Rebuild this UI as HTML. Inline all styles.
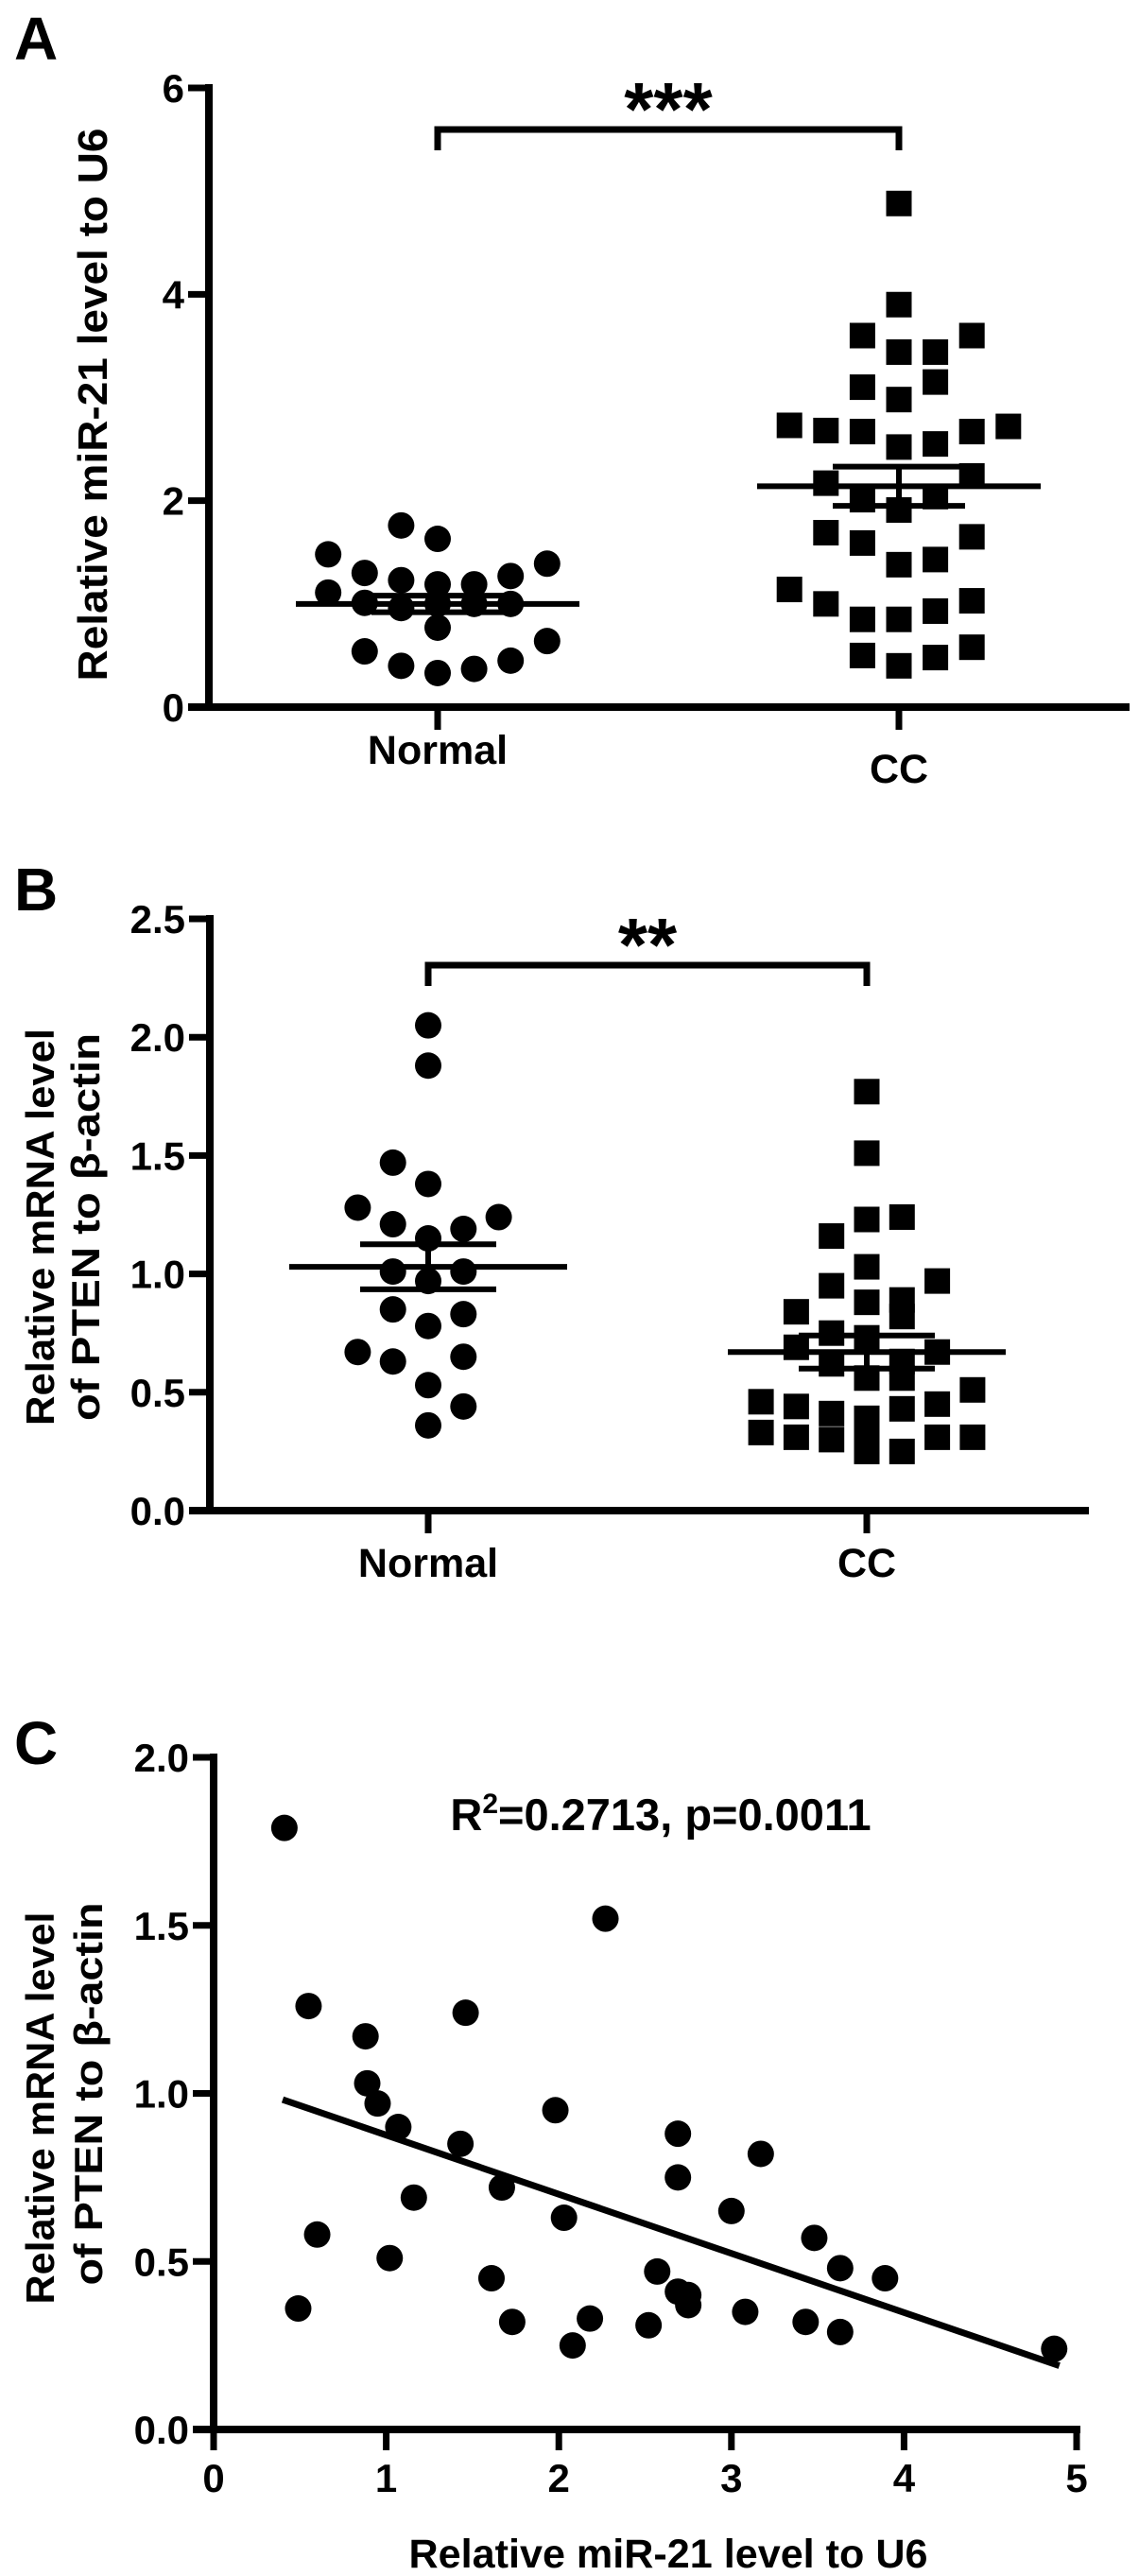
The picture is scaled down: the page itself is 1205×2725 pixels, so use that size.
<!DOCTYPE html>
<html><head><meta charset="utf-8"><style>
html,body{margin:0;padding:0;background:#fff}
svg{display:block}
text{font-family:"Liberation Sans",Arial,sans-serif;font-weight:bold;fill:#000}
</style></head><body>
<svg id="fig" width="1205" height="2725" viewBox="0 0 1205 2725" xmlns="http://www.w3.org/2000/svg"></svg>
<script>
// ---- Panel A data ----
const aGroups = ["Normal","CC"];
const aTicks = [0,2,4,6];
const aNormal = [1.76,1.63,1.48,1.39,1.30,1.23,1.19,1.19,1.27,1.11,1.01,0.96,1.0,1.0,1.0,0.77,0.64,0.54,0.45,0.40,0.37,0.33];
const aNormalCol = [-1,0,-3,3,-2,-1,0,1,2,-3,-2,-1,0,1,2,0,3,-2,2,-1,1,0];
const aCC = [4.88,3.90,3.60,3.60,3.44,3.44,3.15,3.10,2.98,2.73,2.68,2.67,2.72,2.67,2.52,2.55,2.17,2.24,2.01,1.91,2.04,1.69,1.59,1.65,1.38,1.43,1.14,1.0,0.85,0.85,0.93,1.03,0.58,0.50,0.48,0.40];
const aCCCol = [0,0,-1,2,0,1,1,-1,0,-3,-2,-1,3,2,0,1,-2,2,-1,0,1,-2,-1,2,0,1,-3,-2,-1,0,1,2,2,-1,1,0];
const aMean = [1.0,2.14];
const aSem = [0.08,0.19];
// ---- Panel B data ----
const bTicks = [0,0.5,1.0,1.5,2.0,2.5];
const bNormal = [2.05,1.88,1.47,1.38,1.28,1.24,1.21,1.19,1.15,1.01,1.01,0.97,0.85,0.83,0.78,0.67,0.63,0.65,0.53,0.44,0.36];
const bNormalCol = [0,0,-1,0,-2,2,-1,1,0,-1,1,0,-1,1,0,-2,-1,1,0,1,0];
const bCC = [1.77,1.51,1.24,1.23,1.16,1.03,0.97,0.95,0.89,0.88,0.84,0.82,0.75,0.73,0.67,0.69,0.62,0.63,0.56,0.56,0.51,0.46,0.44,0.41,0.39,0.43,0.45,0.31,0.31,0.33,0.31,0.30,0.35,0.25,0.25];
const bCCCol = [0,0,1,0,-1,0,2,-1,1,0,-2,1,-1,0,2,-2,-1,1,0,1,3,-3,-2,-1,0,1,2,2,3,-3,-2,-1,0,1,0];
const bMean = [1.03,0.67];
const bSem = [0.095,0.07];
// ---- Panel C data ----
const cXTicks = [0,1,2,3,4,5];
const cYTicks = [0,0.5,1.0,1.5,2.0];
const cX = [0.41,2.27,0.55,1.46,0.88,0.89,0.95,1.98,1.07,1.43,2.69,3.17,2.69,1.67,1.16,3.0,2.03,0.60,3.48,1.02,2.57,3.63,3.89,1.61,2.69,2.75,2.75,0.49,3.08,1.73,2.18,2.52,3.43,3.63,2.08,4.87];
const cY = [1.79,1.52,1.26,1.24,1.17,1.03,0.97,0.95,0.90,0.85,0.88,0.82,0.75,0.72,0.69,0.65,0.63,0.58,0.57,0.51,0.47,0.48,0.45,0.45,0.41,0.40,0.37,0.36,0.35,0.32,0.33,0.31,0.32,0.29,0.25,0.24];
const cFitSlope = -0.176;
const cFitIntercept = 1.052;
const cFitRange = [0.4,4.9];

const svg = document.getElementById('fig');
const NS = "http://www.w3.org/2000/svg";
function mk(tag, attrs, parent){
  const e = document.createElementNS(NS, tag);
  for (const k in attrs) e.setAttribute(k, attrs[k]);
  (parent||svg).appendChild(e);
  return e;
}
function txt(s, attrs, parent){ const t = mk('text', attrs, parent); t.textContent = s; return t; }

function scatterPanel(cfg){
  const g = mk('g', {});
  
  
  const y = v => cfg.y0 - (v - cfg.ymin) / (cfg.ymax - cfg.ymin) * (cfg.y0 - cfg.yTop);
  const ya = mk('line', {x1:cfg.ax, y1:cfg.yTop-4, x2:cfg.ax, y2:cfg.y0+4, stroke:'#000','stroke-width':8}, g);
   
  const xa = mk('line', {x1:cfg.ax-22, y1:cfg.y0, x2:cfg.xEnd, y2:cfg.y0, stroke:'#000','stroke-width':8}, g);
   
  cfg.ticks.forEach(t => {
    const tl = mk('line', {x1:cfg.ax-22, y1:y(t), x2:cfg.ax, y2:y(t), stroke:'#000','stroke-width':7}, g);
     
    const lb = txt(cfg.fmt(t), {x:cfg.ax-26, y:y(t)+15, 'font-size':42, 'text-anchor':'end'}, g);
     
  });
  cfg.groups.forEach((gr, i) => {
    const cx = cfg.gx[i];
    const tk = mk('line', {x1:cx, y1:cfg.y0, x2:cx, y2:cfg.y0+24, stroke:'#000','stroke-width':7}, g);
     
    const lb = txt(gr, {x:cx, y:cfg.y0+cfg.labDy[i], 'font-size':43, 'text-anchor':'middle'}, g);
     
  });
  cfg.series.forEach((s, i) => {
    const cx = cfg.gx[i];
    s.vals.forEach((v, j) => {
      const px = cx + s.cols[j]*cfg.step, py = y(v);
      let m;
      if (s.shape === 'circle') m = mk('circle', {cx:px, cy:py, r:14, fill:'#000'}, g);
      else m = mk('rect', {x:px-13.5, y:py-13.5, width:27, height:27, fill:'#000'}, g);
      
      
    });
    const mm = mk('line', {x1:cx-cfg.meanW, y1:y(cfg.mean[i]), x2:cx+cfg.meanW, y2:y(cfg.mean[i]), stroke:'#000','stroke-width':6}, g);
     
    [cfg.mean[i]+cfg.sem[i], cfg.mean[i]-cfg.sem[i]].forEach(v => {
      const sl = mk('line', {x1:cx-cfg.semW, y1:y(v), x2:cx+cfg.semW, y2:y(v), stroke:'#000','stroke-width':6}, g);
       
    });
    const sv = mk('line', {x1:cx, y1:y(cfg.mean[i]+cfg.sem[i]), x2:cx, y2:y(cfg.mean[i]-cfg.sem[i]), stroke:'#000','stroke-width':6}, g);
     
  });
  const br = mk('path', {d:`M${cfg.gx[0]} ${cfg.brY+22} V${cfg.brY} H${cfg.gx[1]} V${cfg.brY+22}`, fill:'none', stroke:'#000','stroke-width':7}, g);
   
  const st = txt(cfg.stars, {x:(cfg.gx[0]+cfg.gx[1])/2, y:cfg.brY+cfg.starDy, 'font-size':80, 'text-anchor':'middle'}, g);
   
  return g;
}

[['A',15,63],['B',15,963],['C',15,1866]].forEach(p=>{
  const t = txt(p[0], {x:p[1], y:p[2], 'font-size':64});
  
  
});

scatterPanel({name:'panel-a', ax:221, y0:748, yTop:93, ymin:0, ymax:6, xEnd:1195, ticks:aTicks, fmt:t=>String(t),
  groups:aGroups, gx:[463,951], labDy:[60,80], step:38.6,
  series:[{vals:aNormal, cols:aNormalCol, shape:'circle'},{vals:aCC, cols:aCCCol, shape:'square'}],
  mean:aMean, sem:aSem, meanW:150, semW:70, brY:137, stars:'***', starDy:6});

scatterPanel({name:'panel-b', ax:222, y0:1598, yTop:972, ymin:0, ymax:2.5, xEnd:1152, ticks:bTicks, fmt:t=>t.toFixed(1),
  groups:aGroups, gx:[453,917], labDy:[70,70], step:37.3,
  series:[{vals:bNormal, cols:bNormalCol, shape:'circle'},{vals:bCC, cols:bCCCol, shape:'square'}],
  mean:bMean, sem:bSem, meanW:147, semW:72, brY:1021, stars:'**', starDy:6});

let t;
t = txt('Relative miR-21 level to U6', {x:0, y:0, 'font-size':44, 'text-anchor':'middle', textLength:585, lengthAdjust:'spacingAndGlyphs', transform:'translate(113,428) rotate(-90)'});
 
t = txt('Relative mRNA level', {x:0, y:0, 'font-size':42, 'text-anchor':'middle', textLength:420, lengthAdjust:'spacingAndGlyphs', transform:'translate(57,1298) rotate(-90)'});
 
t = txt('of PTEN to β-actin', {x:0, y:0, 'font-size':42, 'text-anchor':'middle', textLength:410, lengthAdjust:'spacingAndGlyphs', transform:'translate(105,1298) rotate(-90)'});
 

(function(){
  const g = mk('g', {});
   
  const ax = 226, y0 = 2570, yTop = 1859, xR = 1139;
  const X = v => ax + v/5*(xR-ax);
  const Y = v => y0 - v/2*(y0-yTop);
  let e = mk('line', {x1:ax, y1:yTop-4, x2:ax, y2:y0+4, stroke:'#000','stroke-width':8}, g);
   
  e = mk('line', {x1:ax-22, y1:y0, x2:xR+4, y2:y0, stroke:'#000','stroke-width':8}, g);
   
  cYTicks.forEach(v=>{
    const l = mk('line', {x1:ax-22, y1:Y(v), x2:ax, y2:Y(v), stroke:'#000','stroke-width':7}, g);
     
    const lb = txt(v.toFixed(1), {x:ax-26, y:Y(v)+15, 'font-size':42, 'text-anchor':'end'}, g);
     
  });
  cXTicks.forEach(v=>{
    const l = mk('line', {x1:X(v), y1:y0, x2:X(v), y2:y0+22, stroke:'#000','stroke-width':7}, g);
     
    const lb = txt(String(v), {x:X(v), y:y0+66, 'font-size':42, 'text-anchor':'middle'}, g);
     
  });
  cX.forEach((xv,i)=>{
    const c = mk('circle', {cx:X(xv), cy:Y(cY[i]), r:14, fill:'#000'}, g);
     
  });
  const f = mk('line', {x1:X(cFitRange[0]), y1:Y(cFitIntercept+cFitSlope*cFitRange[0]), x2:X(cFitRange[1]), y2:Y(cFitIntercept+cFitSlope*cFitRange[1]), stroke:'#000','stroke-width':7}, g);
   
  const r = mk('text', {x:699, y:1936, 'font-size':47, 'text-anchor':'middle'}, g);
   
  const t1 = mk('tspan', {}, r); t1.textContent = 'R';
  const t2 = mk('tspan', {dy:-18, 'font-size':30}, r); t2.textContent = '2';
  const t3 = mk('tspan', {dy:18}, r); t3.textContent = '=0.2713, p=0.0011';
  let tt = txt('Relative miR-21 level to U6', {x:707, y:2716, 'font-size':43, 'text-anchor':'middle', textLength:549, lengthAdjust:'spacingAndGlyphs'}, g);
   
  tt = txt('Relative mRNA level', {x:0, y:0, 'font-size':42, 'text-anchor':'middle', textLength:415, lengthAdjust:'spacingAndGlyphs', transform:'translate(57,2230) rotate(-90)'}, g);
   
  tt = txt('of PTEN to β-actin', {x:0, y:0, 'font-size':42, 'text-anchor':'middle', textLength:405, lengthAdjust:'spacingAndGlyphs', transform:'translate(108,2215) rotate(-90)'}, g);
   
})();
</script>
</body></html>
